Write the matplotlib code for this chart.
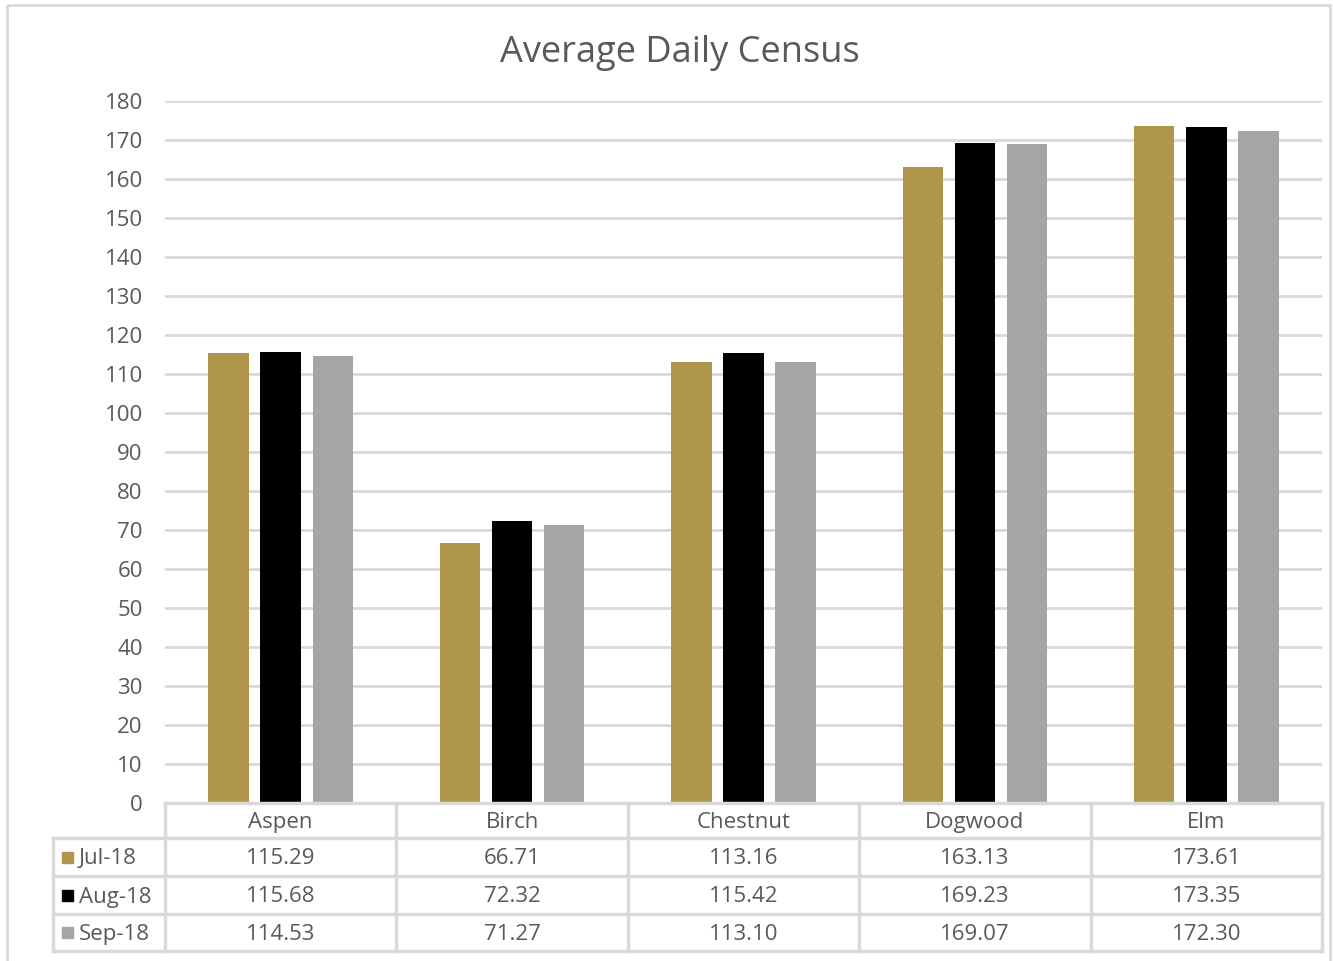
import matplotlib.pyplot as plt
from matplotlib.patches import Rectangle
from matplotlib.lines import Line2D
import numpy as np

plt.rcParams['font.family'] = ['Open Sans', 'DejaVu Sans']

categories = ['Aspen', 'Birch', 'Chestnut', 'Dogwood', 'Elm']
months = ['Jul-18', 'Aug-18', 'Sep-18']
jul = [115.29, 66.71, 113.16, 163.13, 173.61]
aug = [115.68, 72.32, 115.42, 169.23, 173.35]
sep = [114.53, 71.27, 113.10, 169.07, 172.30]
series = [jul, aug, sep]
colors = ['#b0954d', '#000000', '#a5a5a5']

W, H = 1333, 961
fig = plt.figure(figsize=(W / 100, H / 100), dpi=100)

# pixel layout
left, right, top, bottom = 165, 1322, 101, 803
ax = fig.add_axes([left / W, 1 - bottom / H, (right - left) / W, (bottom - top) / H])

grid_c = '#d9d9d9'
text_c = '#595959'

x = np.arange(len(categories))
bw = 0.175
for i, (vals, c) in enumerate(zip(series, colors)):
    ax.bar(x + (i - 1) * 0.225, vals, width=bw, color=c, zorder=3)

ax.set_xlim(-0.5, len(categories) - 0.5)
ax.set_ylim(0, 180)
ax.set_yticks(range(0, 181, 10))
ax.yaxis.grid(True, color=grid_c, linewidth=2, zorder=0)
ax.set_xticks([])
ax.tick_params(axis='y', length=0, pad=16, labelsize=16, labelcolor=text_c)
for s in ax.spines.values():
    s.set_visible(False)

# overlay in pixel coordinates for border, title and data table
ov = fig.add_axes([0, 0, 1, 1], zorder=-1)
ov.set_xlim(0, W)
ov.set_ylim(H, 0)
ov.axis('off')
ov.add_patch(Rectangle((7, 5), 1323, 970, fill=False, edgecolor=grid_c, linewidth=2))

fig.text(680 / W, 1 - 53 / H, 'Average Daily Census', ha='center', va='center',
         fontsize=26, color=text_c)

top_ax = fig.add_axes([0, 0, 1, 1], zorder=5)
top_ax.set_xlim(0, W)
top_ax.set_ylim(H, 0)
top_ax.axis('off')

rows_y = [803, 838, 876, 914, 951]
col_w = (right - left) / len(categories)
cols_x = [left + k * col_w for k in range(len(categories) + 1)]
lab_left = 53
lw = 2.5
top_ax.add_line(Line2D([left, right], [rows_y[0]] * 2, color=grid_c, lw=lw))
for yy in rows_y[1:]:
    top_ax.add_line(Line2D([lab_left, right], [yy] * 2, color=grid_c, lw=lw))
top_ax.add_line(Line2D([lab_left, lab_left], [rows_y[1], rows_y[-1]], color=grid_c, lw=lw))
for xx in cols_x:
    top_ax.add_line(Line2D([xx, xx], [rows_y[0], rows_y[-1]], color=grid_c, lw=lw))

fs = 16
dy = 2  # small nudge down for text
for k, cat in enumerate(categories):
    cx = (cols_x[k] + cols_x[k + 1]) / 2
    top_ax.text(cx, (rows_y[0] + rows_y[1]) / 2 + dy, cat, ha='center', va='center',
                fontsize=fs, color=text_c)
    for r, vals in enumerate(series):
        cy = (rows_y[r + 1] + rows_y[r + 2]) / 2 + dy
        top_ax.text(cx, cy, f'{vals[k]:.2f}', ha='center', va='center',
                    fontsize=fs, color=text_c)

for r, (m, c) in enumerate(zip(months, colors)):
    cy = (rows_y[r + 1] + rows_y[r + 2]) / 2
    top_ax.add_patch(Rectangle((62, cy - 5.5), 11, 11, color=c))
    top_ax.text(79, cy + dy, m, ha='left', va='center', fontsize=fs, color=text_c)

fig.savefig('out.png', dpi=100)
